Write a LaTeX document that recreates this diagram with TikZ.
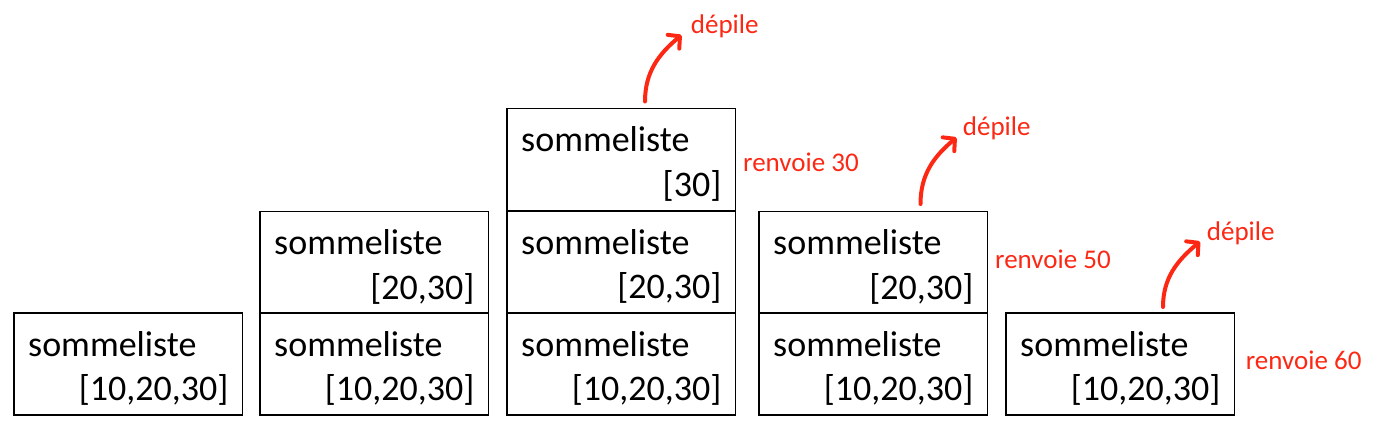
\documentclass[tikz,border=0pt]{standalone}
\usepackage{fontspec}
\setmainfont{Carlito}
\usetikzlibrary{arrows.meta}
\definecolor{redlab}{RGB}{252,40,20}
\newcommand\mkcell[4]{%
  \node[cell] (#1) at (#2,-#3) {};
  \node[fname] (#1n) at ([xshift=14pt,yshift=-43pt]#1.north west) {sommeliste};
  \node[farg] (#1a) at ([xshift=-14pt,yshift=-87.5pt]#1.north east) {#4};
}
\begin{document}
\begin{tikzpicture}[x=1pt,y=1pt,
  cell/.style={draw=black, line width=1.1pt, rectangle, minimum width=228.5pt,
    minimum height=102pt, inner sep=0pt, outer sep=0pt, anchor=north west},
  fname/.style={anchor=base west, inner sep=0pt, font=\fontsize{36}{43}\selectfont},
  farg/.style={anchor=base east, inner sep=0pt, font=\fontsize{36}{43}\selectfont},
  lab/.style={anchor=base west, inner sep=0pt, text=redlab, font=\fontsize{27}{32}\selectfont},
  pop/.style={draw=redlab, line width=4pt, line cap=round,
    -{Straight Barb[length=8.5pt,width=18pt,line cap=round,round]}}
]
\useasboundingbox (0,0) rectangle (1379,-432);

% column 1
\mkcell{c1a}{14}{313}{[10,20,30]}
% column 2
\mkcell{c2a}{260}{313}{[10,20,30]}
\mkcell{c2b}{260}{211.5}{[20,30]}
% column 3
\mkcell{c3a}{507}{313}{[10,20,30]}
\mkcell{c3b}{507}{211}{[20,30]}
\mkcell{c3c}{507}{108.5}{[30]}
% column 4
\mkcell{c4a}{759}{313}{[10,20,30]}
\mkcell{c4b}{759}{211.5}{[20,30]}
% column 5
\mkcell{c5a}{1006}{313}{[10,20,30]}

% return labels
\node[lab] (r30) at (743,-171.7) {renvoie 30};
\node[lab] (r50) at (995,-268) {renvoie 50};
\node[lab] (r60) at (1245.7,-369.3) {renvoie 60};

% pop labels
\node[lab] (d3) at (690.7,-33.3) {dépile};
\node[lab] (d4) at (962.7,-135) {dépile};
\node[lab] (d5) at (1206.7,-240) {dépile};

% arrow ends
\coordinate (s3) at (645,-101.5);
\coordinate (t3) at (681.5,-35);
\coordinate (s4) at (920.5,-204);
\coordinate (t4) at (956.5,-137.5);
\coordinate (s5) at (1163,-307);
\coordinate (t5) at (1200,-241.5);

\draw[pop] (s3) to[out=90,in=220] (t3);
\draw[pop] (s4) to[out=90,in=220] (t4);
\draw[pop] (s5) to[out=90,in=220] (t5);
\end{tikzpicture}
\end{document}
